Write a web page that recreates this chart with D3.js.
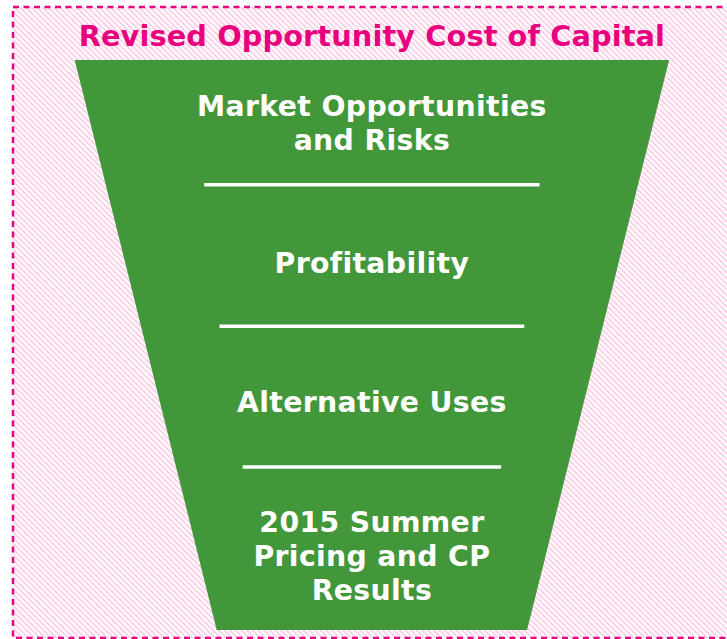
<!DOCTYPE html>
<html>
<head>
<meta charset="utf-8">
<script src="https://cdn.jsdelivr.net/npm/d3@7"></script>
<style>
  html, body { margin: 0; padding: 0; background: #fff; }
  svg { display: block; }
  text { font-family: "DejaVu Sans", Verdana, sans-serif; font-weight: bold; }
</style>
</head>
<body>
<svg width="727" height="639"></svg>
<script>
const title = "Revised Opportunity Cost of Capital";

// funnel stages, top to bottom (one entry per text line)
const stages = [
  ["Market Opportunities", "and Risks"],
  ["Profitability"],
  ["Alternative Uses"],
  ["2015 Summer", "Pricing and CP", "Results"]
];

// where each stage ends, in % of the funnel height
const stageEnds = [21.9, 46.7, 71.4, 100];
// vertical centre of each label, in % of the funnel height
const labelCentres = [11, 35.6, 60, 87.1];
// divider length as a share of the funnel width at that height
const dividerShare = [0.63, 0.66, 0.66];

const svg = d3.select("svg");
const pink = "#e8007f";
const green = "#43973b";

// hatched background
const defs = svg.append("defs");
const pat = defs.append("pattern")
  .attr("id", "hatch")
  .attr("patternUnits", "userSpaceOnUse")
  .attr("width", 4)
  .attr("height", 4)
  .attr("patternTransform", "rotate(-45)");
pat.append("rect").attr("width", 4).attr("height", 4).attr("fill", "#fff");
pat.append("rect").attr("width", 1.9).attr("height", 4).attr("fill", "#fbd0e8");

svg.append("rect")
  .attr("x", 13).attr("y", 7)
  .attr("width", 760).attr("height", 631)
  .attr("fill", "url(#hatch)")
  .attr("stroke", pink)
  .attr("stroke-width", 2.5)
  .attr("stroke-dasharray", "6,4.5");

// scales: y in % of funnel height, half-width shrinks linearly
const y = d3.scaleLinear().domain([0, 100]).range([60, 630]);
const halfW = d3.scaleLinear().domain([0, 100]).range([297.2, 155.2]);
const cx = 371.9;

const outline = [[0, -1], [0, 1], [100, 1], [100, -1]]
  .map(([p, s]) => [cx + s * halfW(p), y(p)]);

svg.append("path")
  .attr("d", d3.line()(outline) + "Z")
  .attr("fill", green);

// dividers
svg.selectAll("line.div")
  .data(stageEnds.slice(0, -1))
  .join("line")
  .attr("class", "div")
  .attr("x1", (d, i) => cx - halfW(d) * dividerShare[i])
  .attr("x2", (d, i) => cx + halfW(d) * dividerShare[i])
  .attr("y1", d => y(d))
  .attr("y2", d => y(d))
  .attr("stroke", "#fff")
  .attr("stroke-width", 3.5);

// stage labels
const lineH = 34;
svg.selectAll("text.stage")
  .data(stages)
  .join("text")
  .attr("class", "stage")
  .attr("text-anchor", "middle")
  .attr("fill", "#fff")
  .attr("font-size", 28.3)
  .attr("letter-spacing", 0.35)
  .each(function (lines, i) {
    const mid = y(labelCentres[i]);
    const first = mid + 10 - (lines.length - 1) * lineH / 2;
    d3.select(this).selectAll("tspan")
      .data(lines)
      .join("tspan")
      .attr("x", cx)
      .attr("y", (_, j) => first + j * lineH)
      .text(d => d);
  });

// title
svg.append("text")
  .attr("x", cx)
  .attr("y", 46)
  .attr("text-anchor", "middle")
  .attr("fill", pink)
  .attr("font-size", 28.8)
  .attr("letter-spacing", 0.1)
  .text(title);
</script>
</body>
</html>
